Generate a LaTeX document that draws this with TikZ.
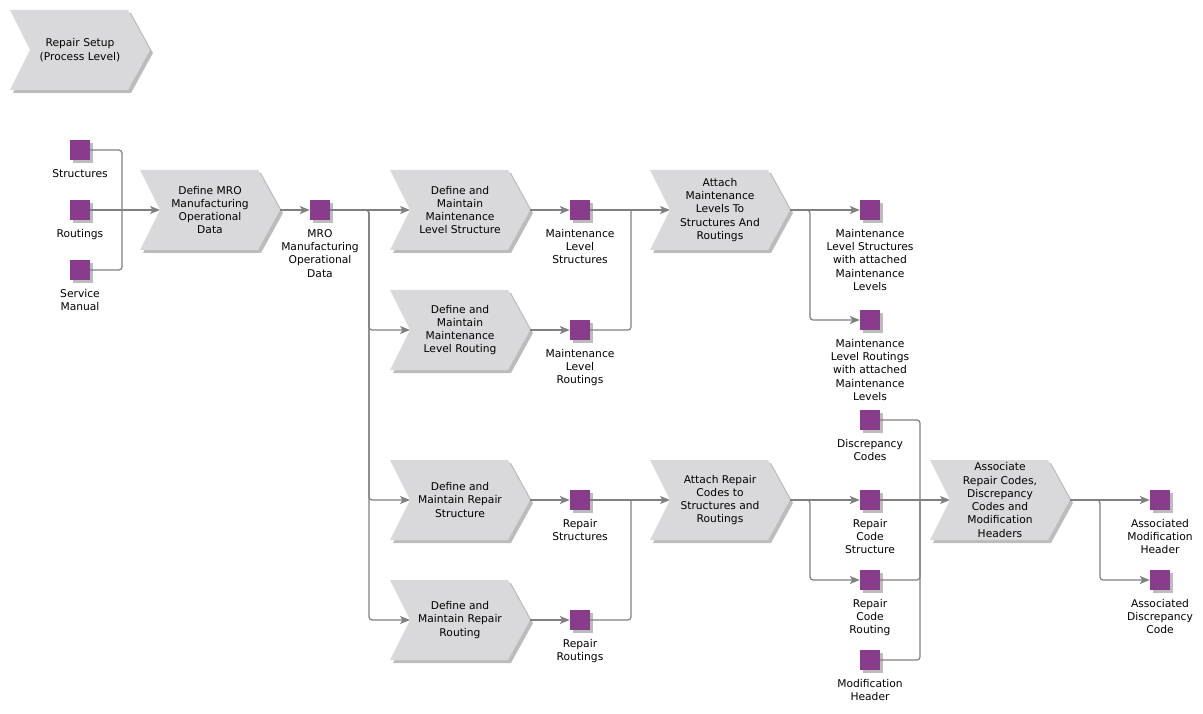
\documentclass[tikz,border=0pt]{standalone}
\usepackage{fontspec}
\setmainfont{DejaVu Sans}
\usetikzlibrary{arrows.meta,calc}
\definecolor{chevcol}{RGB}{217,217,219}
\definecolor{shadcol}{RGB}{188,188,188}
\definecolor{evtcol}{RGB}{138,60,140}
\definecolor{lncol}{RGB}{128,128,128}
\tikzset{
  conn/.style={draw=lncol, line width=1.2pt, rounded corners=3pt},
  arr/.style={conn, -{Stealth[length=10pt,width=8pt,inset=2.5pt]}},
  fntext/.style={font=\fontsize{10.7}{13.3}\selectfont, align=center, inner sep=0pt},
  sqbox/.style={fill=evtcol, minimum size=20pt, inner sep=0pt, draw=none},
  lbl/.style={font=\fontsize{10.7}{13.3}\selectfont, align=center, inner sep=0pt, anchor=north},
}
\newcommand\mychev[4]{%
  \fill[shadcol] (#2-67,#3-37) -- (#2+51,#3-37) -- (#2+73,#3+3) -- (#2+51,#3+43) -- (#2-67,#3+43) -- (#2-47,#3+3) -- cycle;
  \fill[chevcol] (#2-70,#3-40) -- (#2+48,#3-40) -- (#2+70,#3) -- (#2+48,#3+40) -- (#2-70,#3+40) -- (#2-50,#3) -- cycle;
  \node[fntext] (#1) at (#2,#3) {#4};
  \coordinate (#1-in) at (#2-50,#3);
  \coordinate (#1-out) at (#2+70,#3);
}
\newcommand\myevt[4]{%
  \fill[shadcol] (#2-7,#3-7) rectangle (#2+13,#3+13);
  \node[sqbox] (#1) at (#2,#3) {};
  \node[lbl] (#1-l) at (#2,#3+19) {#4};
}
\begin{document}
\begin{tikzpicture}[x=1pt,y=-1pt]
\useasboundingbox (0,0) rectangle (1203,714);
% functions
\mychev{f0}{80}{50}{Repair Setup\\(Process Level)}
\mychev{f1}{210}{210}{Define MRO\\Manufacturing\\Operational\\Data}
\mychev{f2}{460}{210}{Define and\\Maintain\\Maintenance\\Level Structure}
\mychev{f3}{460}{330}{Define and\\Maintain\\Maintenance\\Level Routing}
\mychev{f4}{460}{500}{Define and\\Maintain Repair\\Structure}
\mychev{f5}{460}{620}{Define and\\Maintain Repair\\Routing}
\mychev{f6}{720}{210}{Attach\\Maintenance\\Levels To\\Structures And\\Routings}
\mychev{f7}{720}{500}{Attach Repair\\Codes to\\Structures and\\Routings}
\mychev{f8}{1000}{500}{Associate\\Repair Codes,\\Discrepancy\\Codes and\\Modification\\Headers}
% events
\myevt{e1}{80}{150}{Structures}
\myevt{e2}{80}{210}{Routings}
\myevt{e3}{80}{270}{Service\\Manual}
\myevt{e4}{320}{210}{MRO\\Manufacturing\\Operational\\Data}
\myevt{e5}{580}{210}{Maintenance\\Level\\Structures}
\myevt{e6}{580}{330}{Maintenance\\Level\\Routings}
\myevt{e7}{580}{500}{Repair\\Structures}
\myevt{e8}{580}{620}{Repair\\Routings}
\myevt{e9}{870}{210}{Maintenance\\Level Structures\\with attached\\Maintenance\\Levels}
\myevt{e10}{870}{320}{Maintenance\\Level Routings\\with attached\\Maintenance\\Levels}
\myevt{e11}{870}{420}{Discrepancy\\Codes}
\myevt{e12}{870}{500}{Repair\\Code\\Structure}
\myevt{e13}{870}{580}{Repair\\Code\\Routing}
\myevt{e14}{870}{660}{Modification\\Header}
\myevt{e15}{1160}{500}{Associated\\Modification\\Header}
\myevt{e16}{1160}{580}{Associated\\Discrepancy\\Code}
% junctions
\coordinate (j1) at (122,210);
\coordinate (j2) at (369,210);
\coordinate (j3) at (631,210);
\coordinate (j4) at (810,210);
\coordinate (j5) at (631,500);
\coordinate (j6) at (810,500);
\coordinate (j7) at (920,500);
\coordinate (j8) at (1100,500);
% connectors
\draw[conn] (e1.east) -| (j1);
\draw[conn] (e3.east) -| (j1);
\draw[arr] (e2.east) -- (f1-in);
\draw[arr] (f1-out) -- (e4.west);
\draw[arr] (e4.east) -- (f2-in);
\draw[arr] (e4.east) -- (j2) |- (f3-in);
\draw[arr] (e4.east) -- (j2) |- (f4-in);
\draw[arr] (e4.east) -- (j2) |- (f5-in);
\draw[arr] (f2-out) -- (e5.west);
\draw[arr] (f3-out) -- (e6.west);
\draw[arr] (e5.east) -- (f6-in);
\draw[conn] (e6.east) -| (j3);
\draw[arr] (f6-out) -- (e9.west);
\draw[arr] (f6-out) -- (j4) |- (e10.west);
\draw[arr] (f4-out) -- (e7.west);
\draw[arr] (f5-out) -- (e8.west);
\draw[arr] (e7.east) -- (f7-in);
\draw[conn] (e8.east) -| (j5);
\draw[arr] (f7-out) -- (e12.west);
\draw[arr] (f7-out) -- (j6) |- (e13.west);
\draw[conn] (e11.east) -| (j7);
\draw[arr] (e12.east) -- (f8-in);
\draw[conn] (e13.east) -| (j7);
\draw[conn] (e14.east) -| (j7);
\draw[arr] (f8-out) -- (e15.west);
\draw[arr] (f8-out) -- (j8) |- (e16.west);
\end{tikzpicture}
\end{document}
